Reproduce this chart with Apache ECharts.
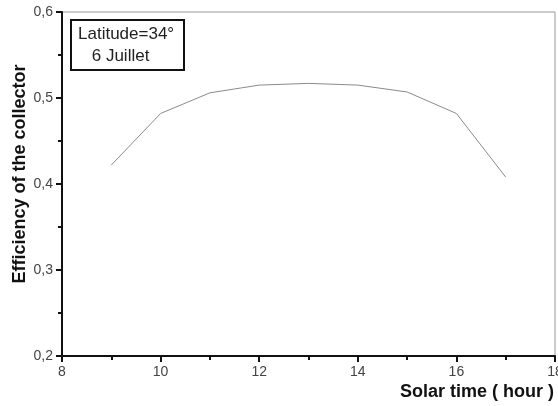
<!DOCTYPE html>
<html>
<head>
<meta charset="utf-8">
<script src="https://cdn.jsdelivr.net/npm/echarts@6/dist/echarts.min.js"></script>
<style>html,body{margin:0;padding:0;background:#fff}#c{width:558px;height:406px}</style>
</head>
<body>
<div id="c"></div>
<script>
const hours = [9, 10, 11, 12, 13, 14, 15, 16, 17];
const efficiency = [0.422, 0.482, 0.506, 0.515, 0.517, 0.515, 0.507, 0.482, 0.408];
const xTitle = 'Solar time ( hour )';
const yTitle = 'Efficiency of the collector';
const legendLines = ['Latitude=34°', ' 6 Juillet'];

const chart = echarts.init(document.getElementById('c'), null, {renderer: 'canvas'});
const font = '"Liberation Sans", Arial, sans-serif';
chart.setOption({
  animation: false,
  grid: {left: 62, right: 3, top: 12, bottom: 50, show: true, borderColor: '#999', borderWidth: 1,
    containLabel: false, outerBoundsMode: 'none'},
  xAxis: {
    type: 'value', min: 8, max: 18, interval: 2,
    axisLine: {show: true, onZero: false, lineStyle: {color: '#111', width: 2}},
    axisTick: {show: true, inside: false, length: 6, lineStyle: {color: '#111', width: 2}},
    minorTick: {show: true, splitNumber: 2, length: 4, lineStyle: {color: '#111', width: 2}},
    axisLabel: {fontFamily: font, fontSize: 14, color: '#444', margin: 9, hideOverlap: false,
      showMinLabel: true, showMaxLabel: true},
    splitLine: {show: false}
  },
  yAxis: {
    type: 'value', min: 0.2, max: 0.6, interval: 0.1,
    axisLine: {show: true, onZero: false, lineStyle: {color: '#111', width: 2}},
    axisTick: {show: true, inside: false, length: 6, lineStyle: {color: '#111', width: 2}},
    minorTick: {show: true, splitNumber: 2, length: 4, lineStyle: {color: '#111', width: 2}},
    axisLabel: {fontFamily: font, fontSize: 14, color: '#444', margin: 9,
      formatter: v => v.toFixed(1).replace('.', ',')},
    splitLine: {show: false}
  },
  series: [{
    type: 'line', data: hours.map((h, i) => [h, efficiency[i]]),
    symbol: 'none', lineStyle: {color: '#8a8a8a', width: 1}
  }],
  graphic: [{
    type: 'rect', left: 70, top: 19,
    shape: {width: 113, height: 50},
    style: {fill: '#fff', stroke: '#111', lineWidth: 2}
  }, {
    type: 'text', left: 78, top: 26,
    style: {text: legendLines[0], font: '17px ' + font, fill: '#222'}
  }, {
    type: 'text', left: 87, top: 48,
    style: {text: legendLines[1], font: '17px ' + font, fill: '#222'}
  }, {
    type: 'text', right: 4, top: 383,
    style: {text: xTitle, font: 'bold 18px ' + font, fill: '#111'}
  }, {
    type: 'text', x: 20, y: 174, rotation: Math.PI / 2,
    style: {text: yTitle, font: 'bold 18px ' + font, fill: '#111', textAlign: 'center', textVerticalAlign: 'middle'}
  }]
});
</script>
</body>
</html>
